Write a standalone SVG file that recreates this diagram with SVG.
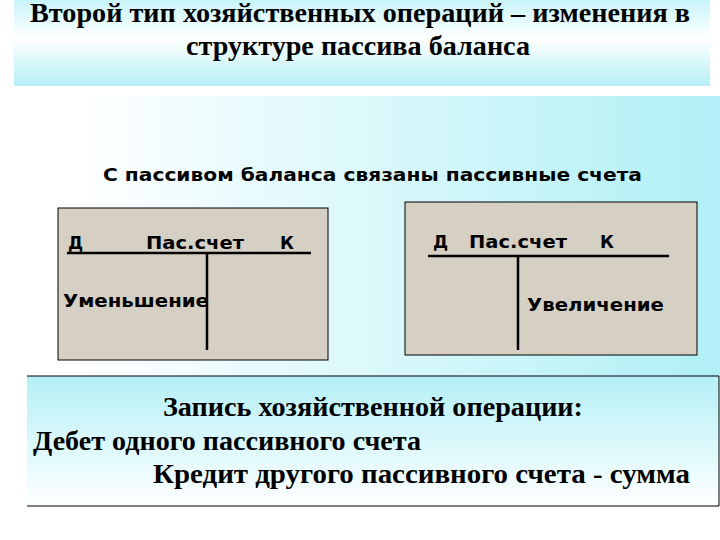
<svg xmlns="http://www.w3.org/2000/svg" width="720" height="540" viewBox="0 0 720 540">
<defs>
<linearGradient id="tg" x1="0" y1="0" x2="0" y2="1"><stop offset="0" stop-color="#c8f4f8"/><stop offset="0.45" stop-color="#ffffff"/><stop offset="1" stop-color="#b4f0f6"/></linearGradient>
<linearGradient id="mg" x1="0" y1="0" x2="1" y2="0"><stop offset="0.1" stop-color="#ffffff"/><stop offset="1" stop-color="#b0f0f6"/></linearGradient>
<linearGradient id="bg" x1="0" y1="0" x2="0" y2="1"><stop offset="0" stop-color="#b4f0f6"/><stop offset="1" stop-color="#ffffff"/></linearGradient>
</defs>
<style>
.s{font-family:"DejaVu Sans",sans-serif;font-weight:bold;font-size:17px;fill:#000}
.t{font-family:"Liberation Serif",serif;font-weight:bold;font-size:27px;fill:#000}
.box{fill:#d6d0c4;stroke:#000;stroke-width:1}
.ln{stroke:#000;stroke-width:2.5}
</style>
<rect width="720" height="540" fill="#fff"/>
<g id="title"><rect x="14" y="0" width="696" height="86" fill="url(#tg)"/>
<text class="t" x="30" y="22" textLength="660" lengthAdjust="spacingAndGlyphs">Второй тип хозяйственных операций – изменения в</text>
<text class="t" x="186" y="55" textLength="344" lengthAdjust="spacingAndGlyphs">структуре пассива баланса</text></g>
<rect x="0" y="96" width="720" height="280" fill="url(#mg)"/>
<text class="s" x="103" y="181" textLength="539" lengthAdjust="spacingAndGlyphs">С пассивом баланса связаны пассивные счета</text>
<g id="left"><rect class="box" x="58" y="208" width="270" height="152"/>
<text class="s" x="68" y="249">Д</text><text class="s" x="146" y="249" textLength="98" lengthAdjust="spacingAndGlyphs">Пас.счет</text><text class="s" x="280" y="249">К</text>
<line class="ln" x1="67" y1="253" x2="311" y2="253"/><line class="ln" x1="207" y1="253" x2="207" y2="350"/>
<text class="s" x="63" y="307" textLength="146" lengthAdjust="spacingAndGlyphs">Уменьшение</text></g>
<g id="right"><rect class="box" x="405" y="202" width="292" height="153"/>
<text class="s" x="433" y="248">Д</text><text class="s" x="469" y="248" textLength="98" lengthAdjust="spacingAndGlyphs">Пас.счет</text><text class="s" x="600" y="248">К</text>
<line class="ln" x1="428" y1="256" x2="669" y2="256"/><line class="ln" x1="518" y1="256" x2="518" y2="350"/>
<text class="s" x="527" y="311" textLength="137" lengthAdjust="spacingAndGlyphs">Увеличение</text></g>
<g id="record"><rect x="27" y="376" width="692" height="130" fill="url(#bg)"/>
<line x1="27" y1="376" x2="719" y2="376" stroke="#000"/><line x1="27" y1="506" x2="719" y2="506" stroke="#000"/>
<line x1="719" y1="376" x2="719" y2="506" stroke="#000"/>
<text class="t" x="163" y="416" textLength="420" lengthAdjust="spacingAndGlyphs">Запись хозяйственной операции:</text>
<text class="t" x="33" y="450" textLength="388" lengthAdjust="spacingAndGlyphs">Дебет одного пассивного счета</text>
<text class="t" x="153" y="483" textLength="537" lengthAdjust="spacingAndGlyphs">Кредит другого пассивного счета   - сумма</text></g>
</svg>
